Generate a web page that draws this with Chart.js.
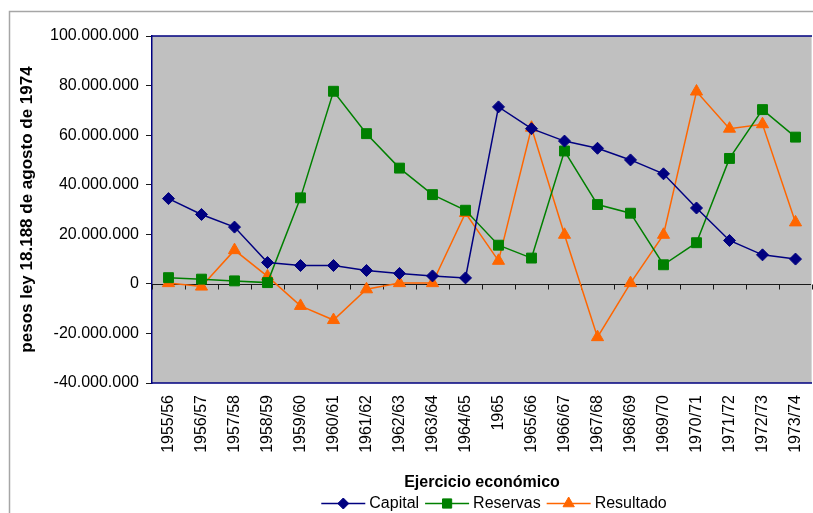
<!DOCTYPE html>
<html>
<head>
<meta charset="utf-8">
<script src="https://cdn.jsdelivr.net/npm/chart.js@4/dist/chart.umd.min.js"></script>
<style>
  html, body { margin: 0; padding: 0; background: #ffffff; }
  #wrap { width: 813px; height: 513px; position: relative; }
</style>
</head>
<body>
<div id="wrap"><canvas id="c" width="813" height="513"></canvas></div>
<script>
// Fiscal years
const categories = ['1955/56','1956/57','1957/58','1958/59','1959/60','1960/61','1961/62',
  '1962/63','1963/64','1964/65','1965','1965/66','1966/67','1967/68','1968/69','1969/70',
  '1970/71','1971/72','1972/73','1973/74'];

// Amounts in pesos ley 18.188 (August 1974)
const capital = [34400000, 28000000, 22900000, 8600000, 7400000, 7400000, 5400000,
  4200000, 3200000, 2400000, 71400000, 62600000, 57600000, 54700000, 50000000, 44400000,
  30600000, 17500000, 11700000, 10000000];
const reservas = [2500000, 1900000, 1200000, 500000, 34700000, 77700000, 60600000,
  46700000, 36000000, 29700000, 15600000, 10400000, 53600000, 32000000, 28500000, 7700000,
  16600000, 50600000, 70300000, 59200000];
const resultado = [300000, -1100000, 13600000, 3000000, -8900000, -14600000, -2200000,
  300000, 300000, 28600000, 9300000, 63000000, 19800000, -21500000, 300000, 19800000,
  77600000, 62600000, 64400000, 24800000];

// Value axis range
const yMin = -40000000;
const yMax = 100000000;
const yStep = 20000000;

const seriesNames = ['Capital', 'Reservas', 'Resultado'];
const seriesColors = ['#000080', '#008000', '#FF6600'];
const seriesMarkers = ['rectRot', 'rect', 'triangle'];
const markerRadius = [6, 7, 7];

const FONT = '"Liberation Sans", Arial, Helvetica, sans-serif';

function dotted(v) {
  const s = Math.abs(Math.round(v)).toString().replace(/\B(?=(\d{3})+(?!\d))/g, '.');
  return (v < 0 ? '-' : '') + s;
}

// Frame, plot fill, zero line with category tick marks
const framePlugin = {
  id: 'frame',
  beforeDraw(chart) {
    const ctx = chart.ctx;
    const a = chart.chartArea;
    ctx.save();
    ctx.fillStyle = '#ffffff';
    ctx.fillRect(0, 0, chart.width, chart.height);
    // outer chart border
    ctx.strokeStyle = '#a6a6a6';
    ctx.lineWidth = 1.5;
    ctx.strokeRect(9.5, 11.5, chart.width + 20, chart.height + 20);
    // plot area
    ctx.fillStyle = '#C0C0C0';
    ctx.fillRect(a.left, a.top, a.right - a.left, a.bottom - a.top);
    ctx.restore();
  },
  beforeDatasetsDraw(chart) {
    const ctx = chart.ctx;
    const a = chart.chartArea;
    const xs = chart.scales.x;
    const ys = chart.scales.y;
    const y0 = Math.round(ys.getPixelForValue(0)) + 0.5;
    ctx.save();
    ctx.strokeStyle = '#1a1a1a';
    ctx.lineWidth = 1;
    ctx.beginPath();
    ctx.moveTo(a.left, y0);
    ctx.lineTo(a.right, y0);
    const n = categories.length;
    const half = (xs.getPixelForValue(1) - xs.getPixelForValue(0)) / 2;
    for (let i = 0; i <= n; i++) {
      const px = Math.round(xs.getPixelForValue(Math.min(i, n - 1)) + (i === n ? half : -half)) + 0.5;
      ctx.moveTo(px, y0);
      ctx.lineTo(px, y0 + 5);
    }
    ctx.stroke();
    // plot border
    ctx.strokeStyle = '#000080';
    ctx.lineWidth = 1.5;
    ctx.beginPath();
    ctx.moveTo(a.left, a.top);
    ctx.lineTo(a.right, a.top);
    ctx.moveTo(a.left, a.bottom);
    ctx.lineTo(a.right, a.bottom);
    ctx.stroke();
    ctx.strokeStyle = '#d8d8d8';
    ctx.lineWidth = 1;
    ctx.beginPath();
    ctx.moveTo(a.right - 0.5, a.top + 1);
    ctx.lineTo(a.right - 0.5, a.bottom - 1);
    ctx.stroke();
    ctx.restore();
  }
};

// Legend: line + marker samples followed by the series name
const legendPlugin = {
  id: 'lineLegend',
  afterDraw(chart) {
    const ctx = chart.ctx;
    ctx.save();
    ctx.font = '16px ' + FONT;
    const lineLen = 44, gapText = 4, gapNext = 6;
    const widths = seriesNames.map(s => ctx.measureText(s).width);
    const total = widths.reduce((s, w) => s + lineLen + gapText + w, 0) + gapNext * (seriesNames.length - 1);
    let x = 494 - total / 2;
    const y = 503.5;
    seriesNames.forEach((name, i) => {
      ctx.strokeStyle = seriesColors[i];
      ctx.fillStyle = seriesColors[i];
      ctx.lineWidth = 1.5;
      ctx.beginPath();
      ctx.moveTo(x, y);
      ctx.lineTo(x + lineLen, y);
      ctx.stroke();
      ctx.lineWidth = 1;
      Chart.helpers.drawPoint(ctx, {
        pointStyle: seriesMarkers[i],
        radius: markerRadius[i] - 0.5,
        borderWidth: 1
      }, x + lineLen / 2, y);
      ctx.fillStyle = '#000000';
      ctx.textAlign = 'left';
      ctx.textBaseline = 'middle';
      ctx.fillText(name, x + lineLen + gapText, y + 0.5);
      x += lineLen + gapText + widths[i] + gapNext;
    });
    ctx.restore();
  }
};

const datasets = [capital, reservas, resultado].map((vals, i) => ({
  label: seriesNames[i],
  data: vals,
  borderColor: seriesColors[i],
  backgroundColor: seriesColors[i],
  borderWidth: 1.5,
  pointStyle: seriesMarkers[i],
  pointRadius: markerRadius[i],
  pointBorderWidth: 1,
  pointBackgroundColor: seriesColors[i],
  pointBorderColor: seriesColors[i],
  tension: 0,
  clip: false
}));

new Chart(document.getElementById('c'), {
  type: 'line',
  data: { labels: categories, datasets },
  options: {
    responsive: false,
    devicePixelRatio: 1,
    animation: false,
    events: [],
    layout: { autoPadding: false, padding: { left: 0, top: 36, right: 1, bottom: 0 } },
    plugins: {
      legend: { display: false },
      tooltip: { enabled: false }
    },
    scales: {
      x: {
        type: 'category',
        offset: true,
        grid: { display: false },
        border: { display: false },
        ticks: {
          autoSkip: false,
          minRotation: 90,
          maxRotation: 90,
          padding: 4,
          color: '#000000',
          font: { family: FONT, size: 16 }
        },
        title: {
          display: true,
          text: 'Ejercicio económico',
          color: '#000000',
          font: { family: FONT, size: 16, weight: 'bold' },
          padding: { top: 0, bottom: 21 }
        },
        afterFit(scale) {
          scale.height = 130;
          scale.paddingLeft = 0;
          scale.paddingRight = 0;
        }
      },
      y: {
        min: yMin,
        max: yMax,
        grid: {
          drawOnChartArea: false,
          drawTicks: true,
          tickLength: 6,
          tickColor: '#1a1a1a',
          lineWidth: 1
        },
        border: { display: true, color: '#000080', width: 1.5 },
        ticks: {
          stepSize: yStep,
          padding: 7,
          color: '#000000',
          font: { family: FONT, size: 16 },
          callback: (v) => dotted(v)
        },
        title: {
          display: true,
          text: 'pesos ley 18.188 de agosto de 1974',
          color: '#000000',
          font: { family: FONT, size: 17, weight: 'bold' },
          padding: { top: 17, bottom: 0 }
        },
        afterFit(scale) {
          scale.width = 152;
          scale.paddingTop = 0;
          scale.paddingBottom = 0;
        }
      }
    }
  },
  plugins: [framePlugin, legendPlugin]
});
</script>
</body>
</html>
